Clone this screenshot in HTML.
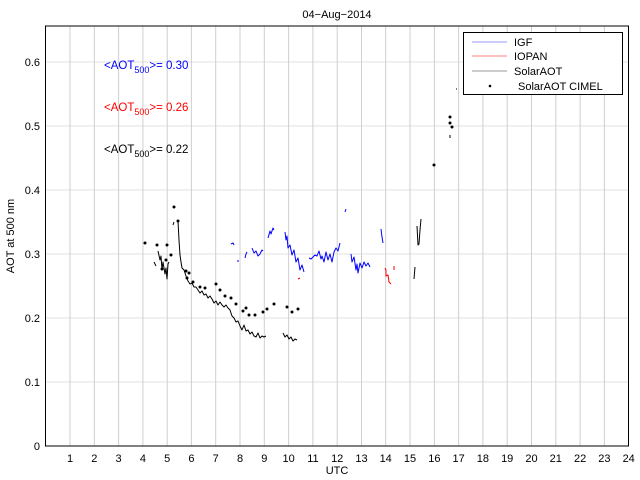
<!DOCTYPE html>
<html><head><meta charset="utf-8"><style>
body{margin:0;background:#fff}
svg{display:block;font-family:"Liberation Sans",Arial,sans-serif}
</style></head><body>
<svg width="640" height="480" viewBox="0 0 640 480" xmlns="http://www.w3.org/2000/svg">
<rect width="640" height="480" fill="#fff"/>
<g stroke="#e6e6e6" stroke-width="1.3">
<line x1="46" y1="382" x2="628" y2="382"/><line x1="46" y1="318" x2="628" y2="318"/><line x1="46" y1="254" x2="628" y2="254"/><line x1="46" y1="190" x2="628" y2="190"/><line x1="46" y1="126" x2="628" y2="126"/><line x1="46" y1="62" x2="628" y2="62"/>
</g>
<g stroke="#cfcfcf" stroke-width="1">
<line x1="70" y1="26" x2="70" y2="446"/><line x1="94.3" y1="26" x2="94.3" y2="446"/><line x1="118.6" y1="26" x2="118.6" y2="446"/><line x1="142.9" y1="26" x2="142.9" y2="446"/><line x1="167.2" y1="26" x2="167.2" y2="446"/><line x1="191.4" y1="26" x2="191.4" y2="446"/><line x1="215.7" y1="26" x2="215.7" y2="446"/><line x1="240" y1="26" x2="240" y2="446"/><line x1="264.3" y1="26" x2="264.3" y2="446"/><line x1="288.6" y1="26" x2="288.6" y2="446"/><line x1="312.9" y1="26" x2="312.9" y2="446"/><line x1="337.2" y1="26" x2="337.2" y2="446"/><line x1="361.5" y1="26" x2="361.5" y2="446"/><line x1="385.7" y1="26" x2="385.7" y2="446"/><line x1="410" y1="26" x2="410" y2="446"/><line x1="434.4" y1="26" x2="434.4" y2="446"/><line x1="458.6" y1="26" x2="458.6" y2="446"/><line x1="482.9" y1="26" x2="482.9" y2="446"/><line x1="507.2" y1="26" x2="507.2" y2="446"/><line x1="531.5" y1="26" x2="531.5" y2="446"/><line x1="555.8" y1="26" x2="555.8" y2="446"/><line x1="580.1" y1="26" x2="580.1" y2="446"/><line x1="604.4" y1="26" x2="604.4" y2="446"/>
</g>
<rect x="45.5" y="26" width="583" height="420" fill="none" stroke="#000" stroke-width="1"/>
<g font-size="11" fill="#000" text-anchor="middle">
<text x="70" y="462">1</text><text x="94.3" y="462">2</text><text x="118.6" y="462">3</text><text x="142.9" y="462">4</text><text x="167.2" y="462">5</text><text x="191.4" y="462">6</text><text x="215.7" y="462">7</text><text x="240" y="462">8</text><text x="264.3" y="462">9</text><text x="288.6" y="462">10</text><text x="312.9" y="462">11</text><text x="337.2" y="462">12</text><text x="361.5" y="462">13</text><text x="385.7" y="462">14</text><text x="410" y="462">15</text><text x="434.4" y="462">16</text><text x="458.6" y="462">17</text><text x="482.9" y="462">18</text><text x="507.2" y="462">19</text><text x="531.5" y="462">20</text><text x="555.8" y="462">21</text><text x="580.1" y="462">22</text><text x="604.4" y="462">23</text><text x="628.7" y="462">24</text>
<text x="337" y="474">UTC</text>
<text x="337" y="18">04−Aug−2014</text>
</g>
<g font-size="11" text-anchor="end">
<text x="40" y="450">0</text><text x="40" y="386">0.1</text><text x="40" y="322">0.2</text><text x="40" y="258">0.3</text><text x="40" y="194">0.4</text><text x="40" y="130">0.5</text><text x="40" y="66">0.6</text>
</g>
<text transform="translate(14,236) rotate(-90)" font-size="11" text-anchor="middle">AOT at 500 nm</text>
<g font-size="11.5">
<text x="104" y="69" fill="#0000ff">&lt;AOT<tspan font-size="9" dy="4">500</tspan><tspan dy="-4">&gt;= 0.30</tspan></text>
<text x="104" y="111" fill="#ff0000">&lt;AOT<tspan font-size="9" dy="4">500</tspan><tspan dy="-4">&gt;= 0.26</tspan></text>
<text x="104" y="153" fill="#000">&lt;AOT<tspan font-size="9" dy="4">500</tspan><tspan dy="-4">&gt;= 0.22</tspan></text>
</g>
<g fill="none" stroke-width="1" stroke-linejoin="round">
<g stroke="#0000ff">
<polyline points="231,244 233,243 234,245"/><polyline points="238,262 238,260"/>
<polyline points="245,258 246,254 247,252"/>
<polyline points="252,248 254,253 256,251 258,256 260,254 262,250 263,251"/>
<polyline points="268,238 270,231 271,234 273,228 274,230"/>
<polyline points="285,232 286,240 287,236 288,248 290,245 292,255 294,250 296,262 298,258 300,270 302,265 304,272"/>
<polyline points="309,258 311,259 313,257 315,255 317,256 319,251 321,259 322,256 324,262 326,252 328,260 330,254 332,262 334,252 336,248 338,251 340,243"/>
<polyline points="345,212 346,209"/>
<polyline points="351,254 352,262 354,257 356,270 357,264 358,273 360,263 362,268 364,262 366,266 368,263 370,267"/>
<polyline points="381,229 382,237 383,243"/>
</g>
<g stroke="#ff0000">
<polyline points="385,268 386,270 386,276 388,275 389,282 391,284"/><polyline points="394,270 394,266"/>
<polyline points="298,279 300,278"/>
</g>
<g stroke="#000">
<polyline points="154,262 155,264 156,266"/>
<polyline points="158,251 160,260 161,256 162,270 163,262 165,274 166,268 167,279 168,264 169,262"/>
<polyline points="173,225 174,222"/>
<polyline points="178,221 179,240 180,255 181,262 182,268 184,270 186,276 188,281 190,284 192,283 194,287 196,287 198,290 200,293 202,291 204,295 206,294 208,298 210,296 212,299 214,303 216,301 218,305 220,302 222,305 224,307 226,305 228,308 230,310 232,316 234,318 236,322 238,321 240,326 242,330 244,325 246,331 248,330 250,334 252,332 254,336 256,337 258,333 260,338 262,336 264,337 266,336"/>
<polyline points="283,333 285,337 287,335 289,339 291,337 293,341 295,339 297,340"/>
<polyline points="414,279 415,267"/>
<polyline points="417,226 418,245 419,244 420,230 421,219"/>
<polyline points="456,89 457,89"/>
<polyline points="450,135 450,138"/>
</g>
</g>
<g fill="#000">
<circle cx="145" cy="243" r="1.5"/><circle cx="157" cy="245" r="1.5"/><circle cx="162" cy="269" r="1.5"/><circle cx="167" cy="245" r="1.5"/><circle cx="166" cy="260" r="1.5"/><circle cx="171" cy="255" r="1.5"/><circle cx="174" cy="207" r="1.5"/><circle cx="178" cy="221" r="1.5"/><circle cx="186" cy="271" r="1.5"/><circle cx="189" cy="273" r="1.5"/><circle cx="187" cy="278" r="1.5"/><circle cx="193" cy="282" r="1.5"/><circle cx="200" cy="287" r="1.5"/><circle cx="205" cy="288" r="1.5"/><circle cx="216" cy="284" r="1.5"/><circle cx="220" cy="290" r="1.5"/><circle cx="225" cy="296" r="1.5"/><circle cx="231" cy="298" r="1.5"/><circle cx="236" cy="304" r="1.5"/><circle cx="243" cy="311" r="1.5"/><circle cx="246" cy="308" r="1.5"/><circle cx="249" cy="315" r="1.5"/><circle cx="255" cy="315" r="1.5"/><circle cx="263" cy="312" r="1.5"/><circle cx="267" cy="309" r="1.5"/><circle cx="274" cy="304" r="1.5"/><circle cx="287" cy="307" r="1.5"/><circle cx="292" cy="312" r="1.5"/><circle cx="298" cy="309" r="1.5"/><circle cx="434" cy="165" r="1.5"/><circle cx="450" cy="117" r="1.5"/><circle cx="450" cy="123" r="1.5"/><circle cx="452" cy="127" r="1.5"/>
</g>
<rect x="463.5" y="32.5" width="159" height="62" fill="#fff" stroke="#000" stroke-width="1"/>
<g stroke-width="1">
<line x1="472" y1="42" x2="507" y2="42" stroke="#9999ff"/>
<line x1="472" y1="56" x2="507" y2="56" stroke="#ff8080"/>
<line x1="472" y1="71" x2="507" y2="71" stroke="#999"/>
</g>
<circle cx="490" cy="86" r="1.3" fill="#000"/>
<g font-size="11">
<text x="514" y="46">IGF</text><text x="514" y="60">IOPAN</text><text x="514" y="75">SolarAOT</text><text x="518" y="90">SolarAOT CIMEL</text>
</g>
</svg>
</body></html>
